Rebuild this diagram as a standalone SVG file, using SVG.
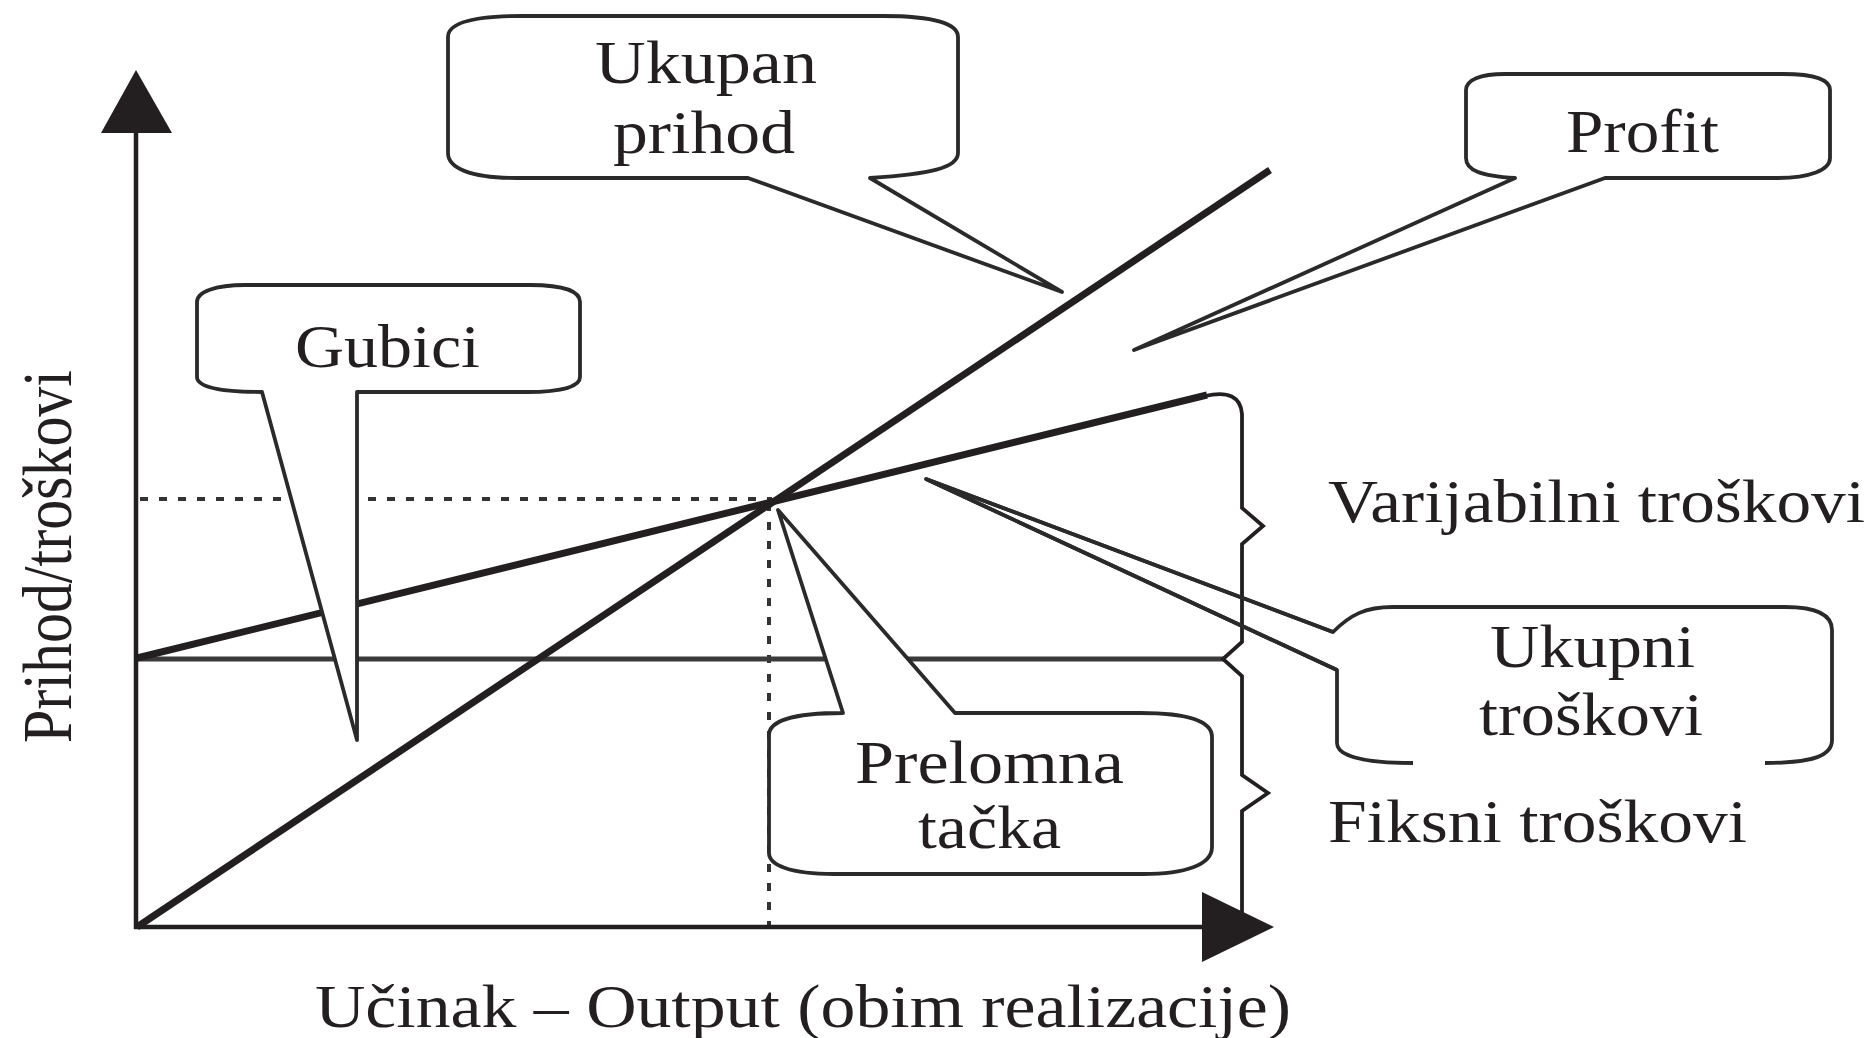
<svg xmlns="http://www.w3.org/2000/svg" width="1875" height="1038" viewBox="0 0 1875 1038">
<defs>
<style>
.t{font-family:"Liberation Serif","Times New Roman",serif;font-size:62px;fill:#231f20;}
.bub{fill:#fff;stroke:#2a2a2a;stroke-width:3.8;stroke-linejoin:round;}
.nostroke{fill:#fff;stroke:none;}
.line{fill:none;stroke:#2a2a2a;stroke-width:3.8;stroke-linejoin:round;}
.thick{stroke:#231f20;stroke-width:7;fill:none;}
.axis{stroke:#231f20;stroke-width:4.5;fill:none;}
.dash{stroke:#333;stroke-width:4;stroke-dasharray:8 11;fill:none;}
.brace{stroke:#231f20;stroke-width:3.8;fill:none;stroke-linejoin:miter;}
.head{fill:#231f20;}
</style>
</defs>
<rect width="1875" height="1038" fill="#fff"/>

<g id="chart-lines">
  <line class="dash" x1="140" y1="499" x2="772" y2="499"/>
  <line class="dash" x1="769" y1="503" x2="769" y2="925"/>
  <line x1="137" y1="659" x2="1224" y2="659" stroke="#3a3a3a" stroke-width="5"/>
  <line class="thick" x1="137" y1="927" x2="1270" y2="170"/>
  <line class="thick" x1="137" y1="658" x2="1207" y2="395"/>
</g>

<g id="axes">
  <line class="axis" x1="136" y1="130" x2="136" y2="929"/>
  <line class="axis" x1="134" y1="927" x2="1205" y2="927"/>
  <polygon class="head" points="136,70 101,133 172,133"/>
  <polygon class="head" points="1274,927 1202,892 1202,962"/>
</g>

<g id="callout-ukupan-prihod">
  <path class="bub" d="M523,16 L883,16 C935,16 958,24 958,37 L958,153 C958,168 930,174 870,178 L1062,292 L748,178 L517,178 C470,178 448,168 448,153 L448,37 C448,24 470,16 523,16 Z"/>
  <text class="t" x="595" y="83" textLength="222" lengthAdjust="spacingAndGlyphs">Ukupan</text>
  <text class="t" x="613" y="153" textLength="182" lengthAdjust="spacingAndGlyphs">prihod</text>
</g>

<g id="callout-profit">
  <path class="bub" d="M1505,74 L1783,74 C1815,74 1830,80 1830,90 L1830,158 C1830,170 1810,178 1777,178 L1605,178 L1134,350 L1515,178 C1480,176 1466,170 1466,158 L1466,90 C1466,80 1480,74 1505,74 Z"/>
  <text class="t" x="1566" y="152" textLength="153" lengthAdjust="spacingAndGlyphs">Profit</text>
</g>

<g id="callout-gubici">
  <path class="bub" d="M245,285 L530,285 C565,285 580,292 580,302 L580,377 C580,387 560,392 527,392 L357,392 L357,740 L262,392 C220,392 197,387 197,377 L197,302 C197,292 215,285 245,285 Z"/>
  <text class="t" x="295" y="367" textLength="185" lengthAdjust="spacingAndGlyphs">Gubici</text>
</g>

<g id="callout-prelomna-tacka">
  <path class="bub" d="M843,713 L778,510 L955,713 L1140,713 C1190,713 1212,722 1212,737 L1212,847 C1212,865 1185,874 1143,874 L834,874 C790,874 769,865 769,853 L769,735 C769,722 790,713 843,713 Z"/>
  <text class="t" x="855" y="783" textLength="269" lengthAdjust="spacingAndGlyphs">Prelomna</text>
  <text class="t" x="918" y="848" textLength="143" lengthAdjust="spacingAndGlyphs">tačka</text>
</g>

<g id="callout-ukupni-troskovi">
  <path class="nostroke" d="M1413,763 C1360,763 1337,755 1337,743 L1337,670 L926,479 L1333,632 C1350,615 1365,607 1393,607 L1785,607 C1818,607 1832,615 1832,630 L1832,740 C1832,755 1815,763 1765,763 Z"/>
  <path class="line" d="M1413,763 C1360,763 1337,755 1337,743 L1337,670 L926,479 L1333,632 C1350,615 1365,607 1393,607 L1785,607 C1818,607 1832,615 1832,630 L1832,740 C1832,755 1815,763 1765,763"/>
  <text class="t" x="1490" y="667" textLength="205" lengthAdjust="spacingAndGlyphs">Ukupni</text>
  <text class="t" x="1479" y="735" textLength="224" lengthAdjust="spacingAndGlyphs">troškovi</text>
</g>

<g id="brace">
  <path class="brace" d="M1205,396 Q1240,388 1242,414 L1242,508 L1263,526 L1242,544 L1242,642 L1223,659 L1242,676 L1242,775 L1268,793 L1242,811 L1242,915"/>
  <path class="line" d="M926,479 L1337,670 M926,479 L1333,632"/>
</g>

<g id="labels">
  <text class="t" x="1328" y="522" textLength="537" lengthAdjust="spacingAndGlyphs">Varijabilni troškovi</text>
  <text class="t" x="1328" y="842" textLength="419" lengthAdjust="spacingAndGlyphs">Fiksni troškovi</text>
  <text class="t" x="315" y="1027" textLength="976" lengthAdjust="spacingAndGlyphs">Učinak – Output (obim realizacije)</text>
  <text class="t" transform="translate(71,743) rotate(-90)" x="0" y="0" style="font-size:70px" textLength="373" lengthAdjust="spacingAndGlyphs">Prihod/troškovi</text>
</g>
</svg>
